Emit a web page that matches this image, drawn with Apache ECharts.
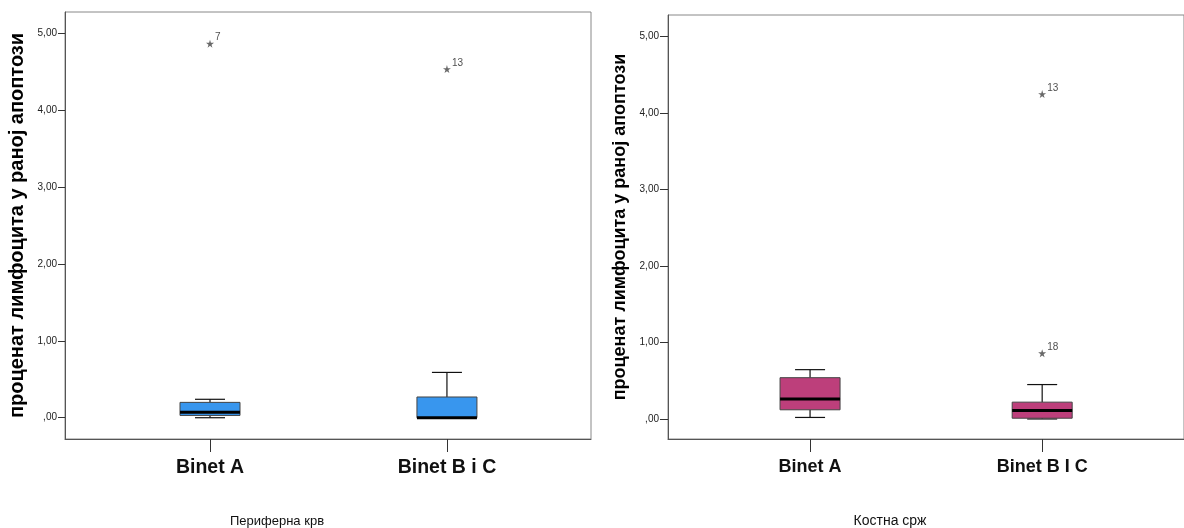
<!DOCTYPE html>
<html><head><meta charset="utf-8">
<script src="https://cdn.jsdelivr.net/npm/echarts@6/dist/echarts.min.js"></script>
<style>html,body{margin:0;padding:0;background:#fff}#c{width:1184px;height:528px}</style>
</head><body><div id="c"></div>
<script>
// ---- data ----
const categoriesLeft = ['Binet A', 'Binet B i C'];
const categoriesRight = ['Binet A', 'Binet B I C'];
// [min, Q1, median, Q3, max]
const boxLeft = [[0.00, 0.03, 0.07, 0.20, 0.24], [0.00, 0.00, 0.00, 0.27, 0.59]];
const boxRight = [[0.02, 0.12, 0.26, 0.54, 0.645], [0.00, 0.01, 0.11, 0.22, 0.45]];
// outliers: [categoryIndex, value, case id]
const outLeft = [[0, 4.87, '7'], [1, 4.54, '13']];
const outRight = [[1, 4.25, '13'], [1, 0.86, '18']];
const yTicks = [0, 1, 2, 3, 4, 5];
const yTitle = 'проценат лимфоцита у раној апоптози';
const panelTitles = ['Периферна крв', 'Костна срж'];

const FONT = '"Liberation Sans", Arial, sans-serif';
const STAR = 'path://M50,0 L61,35 L98,35 L68,57 L79,91 L50,70 L21,91 L32,57 L2,35 L39,35 Z';

function boxData(arr) { return arr.map((b, i) => [i + 1].concat(b)); }
function outData(arr) { return arr.map(o => ({ value: [o[0] + 1, o[1]], name: o[2] })); }

function renderBox(fill) {
  return function (params, api) {
    const x = api.value(0);
    const mn = api.coord([x, api.value(1)]);
    const q1 = api.coord([x, api.value(2)]);
    const md = api.coord([x, api.value(3)]);
    const q3 = api.coord([x, api.value(4)]);
    const mx = api.coord([x, api.value(5)]);
    const half = 30, cap = 15;
    const cx = mn[0];
    const ln = { stroke: '#111', lineWidth: 1.2 };
    return {
      type: 'group',
      children: [
        { type: 'line', shape: { x1: cx, y1: q3[1], x2: cx, y2: mx[1] }, style: ln },
        { type: 'line', shape: { x1: cx - cap, y1: mx[1], x2: cx + cap, y2: mx[1] }, style: ln },
        { type: 'line', shape: { x1: cx, y1: q1[1], x2: cx, y2: mn[1] }, style: ln },
        { type: 'line', shape: { x1: cx - cap, y1: mn[1], x2: cx + cap, y2: mn[1] }, style: ln },
        { type: 'rect', shape: { x: cx - half, y: q3[1], width: half * 2, height: q1[1] - q3[1] },
          style: { fill: fill, stroke: '#444', lineWidth: 1 } },
        { type: 'line', shape: { x1: cx - half, y1: md[1], x2: cx + half, y2: md[1] }, style: { stroke: '#000', lineWidth: 3 } }
      ]
    };
  };
}

function yAxis(gi, min, max, gap, titleSize, tickLen, margin) {
  return {
    type: 'value', gridIndex: gi, min: min, max: max,
    name: yTitle, nameLocation: 'middle', nameRotate: 90, nameGap: gap,
    nameTextStyle: { fontFamily: FONT, fontSize: titleSize, fontWeight: 'bold', color: '#000' },
    axisLine: { show: true, onZero: false, lineStyle: { color: '#555', width: 1 } },
    axisTick: { show: true, length: tickLen, customValues: yTicks, lineStyle: { color: '#333' } },
    axisLabel: { customValues: yTicks, margin: margin, fontSize: 10, fontFamily: FONT, color: '#222',
      formatter: v => (v === 0 ? ',00' : v + ',00') },
    splitLine: { show: false }
  };
}
function xAxis(gi, min, max, cats, labelSize) {
  return {
    type: 'value', gridIndex: gi, min: min, max: max,
    axisLine: { show: true, onZero: false, lineStyle: { color: '#555', width: 1 } },
    axisTick: { show: true, length: 13, customValues: [1, 2], lineStyle: { color: '#333' } },
    axisLabel: { customValues: [1, 2], margin: 19, fontSize: labelSize, fontWeight: 'bold', fontFamily: FONT, color: '#111',
      formatter: v => cats[Math.round(v) - 1] || '' },
    splitLine: { show: false }
  };
}
function outSeries(gi, data) {
  return {
    type: 'scatter', xAxisIndex: gi, yAxisIndex: gi, data: data,
    symbol: STAR, symbolSize: 8, itemStyle: { color: '#444' },
    label: { show: true, position: 'right', distance: 1, offset: [0, -6], formatter: p => p.name,
      fontSize: 10, fontFamily: FONT, color: '#222' },
    z: 5
  };
}

const chart = echarts.init(document.getElementById('c'), null, { renderer: 'canvas' });
chart.setOption({
  backgroundColor: '#fff',
  animation: false,
  grid: [
    { left: 65, top: 12, width: 526, height: 427, show: true, borderColor: '#888', borderWidth: 1, backgroundColor: 'transparent' },
    { left: 668, top: 15, width: 526, height: 424, show: true, borderColor: '#888', borderWidth: 1, backgroundColor: 'transparent' }
  ],
  xAxis: [xAxis(0, 0.388, 2.608, categoriesLeft, 19.5), xAxis(1, 0.388, 2.611, categoriesRight, 18)],
  yAxis: [yAxis(0, -0.277, 5.283, 38, 20, 7, 8), yAxis(1, -0.262, 5.284, 39, 18, 8, 9)],
  series: [
    { type: 'custom', xAxisIndex: 0, yAxisIndex: 0, data: boxData(boxLeft), renderItem: renderBox('#3896ee'),
      encode: { x: 0, y: [1, 2, 3, 4, 5] } },
    { type: 'custom', xAxisIndex: 1, yAxisIndex: 1, data: boxData(boxRight), renderItem: renderBox('#bd3f7b'),
      encode: { x: 0, y: [1, 2, 3, 4, 5] } },
    outSeries(0, outData(outLeft)),
    outSeries(1, outData(outRight))
  ],
  graphic: [
    { type: 'text', x: 277, y: 521, style: { text: panelTitles[0], textAlign: 'center', textVerticalAlign: 'middle', fontSize: 13, fontFamily: FONT, fill: '#111' } },
    { type: 'text', x: 890, y: 521, style: { text: panelTitles[1], textAlign: 'center', textVerticalAlign: 'middle', fontSize: 14, fontFamily: FONT, fill: '#111' } }
  ]
});
</script></body></html>
